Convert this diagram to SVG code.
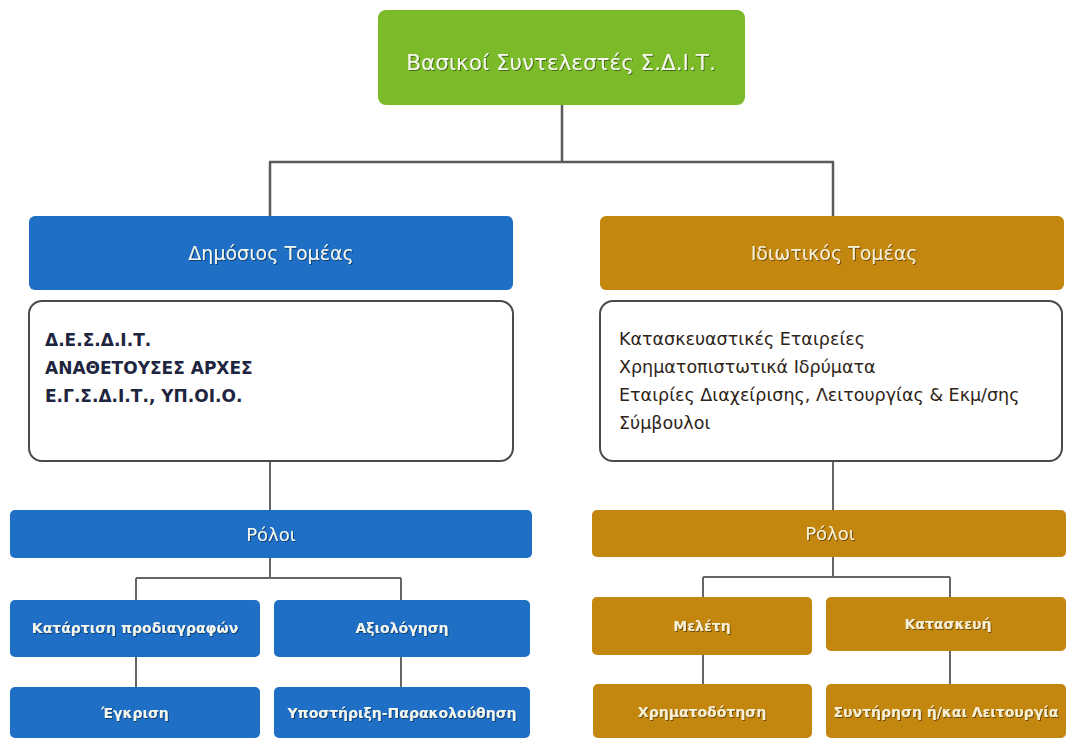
<svg xmlns="http://www.w3.org/2000/svg" width="1068" height="740" viewBox="0 0 1068 740">
<defs>
<filter id="sh" x="-10%" y="-30%" width="120%" height="160%">
<feDropShadow dx="1" dy="1" stdDeviation="0.6" flood-color="#000" flood-opacity="0.45"/>
</filter>
</defs>
<style>
.green{fill:#7bbb2a}
.blue{fill:#1f6fc6}
.gold{fill:#c3860f}
.panel{fill:#fff;stroke:#4a4a4a;stroke-width:2}
.lbl{font-family:"DejaVu Sans","Liberation Sans",sans-serif;fill:#f4f7ee;text-anchor:middle;dominant-baseline:central;filter:url(#sh)}
.sm{font-size:14px;font-weight:bold}
.gl{fill:#f6f0d8}
.pub{font-family:"DejaVu Sans","Liberation Sans",sans-serif;font-weight:bold;font-size:17px;fill:#1e2540}
.prv{font-family:"DejaVu Sans","Liberation Sans",sans-serif;font-size:17.5px;fill:#2e2418}
.conn{fill:none;stroke:#5a5a5a;stroke-width:2.5}
.conn2{fill:none;stroke:#666;stroke-width:2}
</style>
<rect width="1068" height="740" fill="#fff"/>
<g id="connectors">
<path class="conn" d="M562,105 V162 M269,162 H834 M270,162 V216 M833,162 V216"/>
<path class="conn2" d="M270,460 V510 M833,460 V510"/>
<path class="conn2" d="M270,558 V578 M136,578 H401 M136,578 V600 M401,578 V600 M136,657 V687 M401,657 V687"/>
<path class="conn2" d="M833,557 V577 M703,577 H950 M703,577 V597 M950,577 V597 M703,655 V684 M950,651 V684"/>
</g>
<g id="root">
<rect class="green" x="378" y="10" width="367" height="95" rx="8"/>
<text class="lbl" x="561" y="62" font-size="21.5">Βασικοί Συντελεστές Σ.Δ.Ι.Τ.</text>
</g>
<g id="public">
<rect class="blue" x="29" y="216" width="484" height="74" rx="6"/>
<text class="lbl" x="271" y="253" font-size="19">Δημόσιος Τομέας</text>
</g>
<g id="public-list">
<rect class="panel" x="29" y="301" width="484" height="160" rx="13"/>
<text class="pub" x="45" y="346">Δ.Ε.Σ.Δ.Ι.Τ.</text>
<text class="pub" x="45" y="374">ΑΝΑΘΕΤΟΥΣΕΣ ΑΡΧΕΣ</text>
<text class="pub" x="45" y="402">Ε.Γ.Σ.Δ.Ι.Τ., ΥΠ.ΟΙ.Ο.</text>
</g>
<g id="private">
<rect class="gold" x="600" y="216" width="464" height="74" rx="6"/>
<text class="lbl gl" x="834" y="253" font-size="19">Ιδιωτικός Τομέας</text>
</g>
<g id="private-list">
<rect class="panel" x="600" y="301" width="462" height="160" rx="13"/>
<text class="prv" x="619" y="345">Κατασκευαστικές Εταιρείες</text>
<text class="prv" x="619" y="373">Χρηματοπιστωτικά Ιδρύματα</text>
<text class="prv" x="619" y="401">Εταιρίες Διαχείρισης, Λειτουργίας &amp; Εκμ/σης</text>
<text class="prv" x="619" y="429">Σύμβουλοι</text>
</g>
<g id="public-roles">
<rect class="blue" x="10" y="510" width="522" height="48" rx="5"/>
<text class="lbl" x="271" y="534" font-size="18">Ρόλοι</text>
</g>
<g id="pub-spec">
<rect class="blue" x="10" y="600" width="250" height="57" rx="5"/>
<text class="lbl sm" x="135" y="628">Κατάρτιση προδιαγραφών</text>
</g>
<g id="pub-eval">
<rect class="blue" x="274" y="600" width="256" height="57" rx="5"/>
<text class="lbl sm" x="402" y="628">Αξιολόγηση</text>
</g>
<g id="pub-approve">
<rect class="blue" x="10" y="687" width="250" height="51" rx="5"/>
<text class="lbl sm" x="135" y="713">Έγκριση</text>
</g>
<g id="pub-support">
<rect class="blue" x="274" y="687" width="256" height="51" rx="5"/>
<text class="lbl sm" x="402" y="713">Υποστήριξη-Παρακολούθηση</text>
</g>
<g id="private-roles">
<rect class="gold" x="592" y="510" width="474" height="47" rx="5"/>
<text class="lbl gl" x="830" y="533" font-size="18">Ρόλοι</text>
</g>
<g id="prv-study">
<rect class="gold" x="592" y="597" width="220" height="58" rx="5"/>
<text class="lbl gl sm" x="702" y="626">Μελέτη</text>
</g>
<g id="prv-build">
<rect class="gold" x="826" y="597" width="240" height="54" rx="5"/>
<text class="lbl gl sm" x="948" y="624">Κατασκευή</text>
</g>
<g id="prv-finance">
<rect class="gold" x="593" y="684" width="219" height="54" rx="5"/>
<text class="lbl gl sm" x="702" y="712">Χρηματοδότηση</text>
</g>
<g id="prv-maint">
<rect class="gold" x="826" y="684" width="240" height="54" rx="5"/>
<text class="lbl gl sm" x="946" y="712">Συντήρηση ή/και Λειτουργία</text>
</g>
</svg>
